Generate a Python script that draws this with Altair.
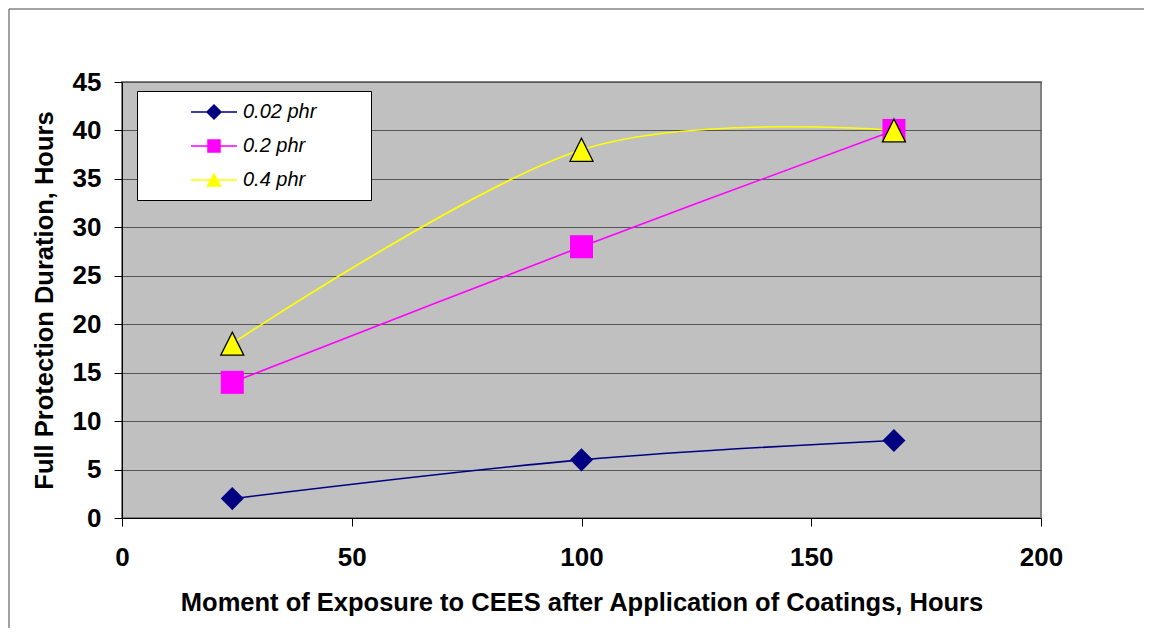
import altair as alt
import pandas as pd

# ---- data ----
hours = [24, 100, 168]
series_names = ["0.02 phr", "0.2 phr", "0.4 phr"]
duration_002 = [2, 6, 8]
duration_02 = [14, 28, 40]
duration_04 = [18, 38, 40]
series_colors = ["#000080", "#FF00FF", "#FFFF00"]
x_ticks = [0, 50, 100, 150, 200]
y_ticks = [0, 5, 10, 15, 20, 25, 30, 35, 40, 45]
x_title = "Moment of Exposure to CEES after Application of Coatings, Hours"
y_title = "Full Protection Duration, Hours"

# marker styles
plot_shapes = ["diamond", "square", "M0,-1L1,1L-1,1Z"]
marker_edges = ["", "", "#000000"]
legend_shapes = [
    "M-2.3,0L2.3,0M0,-0.7L0.7,0L0,0.7L-0.7,0Z",
    "M-2.3,0L2.3,0M-0.6,-0.6L0.6,-0.6L0.6,0.6L-0.6,0.6Z",
    "M-2.3,0L2.3,0M0,-0.6L0.65,0.6L-0.65,0.6Z",
]

rows = []
for name, vals in zip(series_names, [duration_002, duration_02, duration_04]):
    for h, v in zip(hours, vals):
        rows.append({"series": name, "hours": h, "duration": v})
df = pd.DataFrame(rows)

FONT = "Liberation Sans"

x_enc = alt.X(
    "hours:Q",
    scale=alt.Scale(domain=[0, 200], nice=False, zero=False),
    axis=alt.Axis(values=x_ticks, grid=False, title=x_title, format="d",
                  labelFlush=False, labelPadding=18, titlePadding=20),
)
y_enc = alt.Y(
    "duration:Q",
    scale=alt.Scale(domain=[0, 45], nice=False),
    axis=alt.Axis(values=y_ticks, grid=True, title=y_title, format="d",
                  labelFlush=False, labelPadding=13, titlePadding=15),
)

color_scale = alt.Scale(domain=series_names, range=series_colors)
fill_scale = alt.Scale(domain=series_names, range=series_colors)
stroke_scale = alt.Scale(domain=series_names, range=series_colors)
legend_shape_scale = alt.Scale(domain=series_names, range=legend_shapes)

leg = alt.Legend(
    orient="none", legendX=15, legendY=9, title=None,
    fillColor="white", strokeColor="black", padding=10,
    symbolSize=400, symbolStrokeWidth=1.5, symbolOpacity=1,
    symbolOffset=56, labelOffset=18,
    labelFont=FONT, labelFontSize=20, labelFontStyle="italic", labelColor="black",
    rowPadding=13,
    labelExpr="datum.label + '        \u200b'",
)

base = alt.Chart(df)

frame = alt.Chart(pd.DataFrame({"k": [0]})).mark_rect(
    fill="transparent", stroke="#444444", strokeWidth=1, clip=False
).encode(
    x=alt.value(-113), x2=alt.value(2000), y=alt.value(-73), y2=alt.value(2000)
)

legend_layer = base.mark_point(filled=True, opacity=0, strokeWidth=1.5).encode(
    x=x_enc, y=y_enc,
    fill=alt.Fill("series:N", scale=fill_scale, legend=leg),
    stroke=alt.Stroke("series:N", scale=stroke_scale, legend=leg),
    shape=alt.Shape("series:N", scale=legend_shape_scale, legend=leg),
)

lines = base.mark_line(strokeWidth=1.6, interpolate="cardinal").encode(
    x=x_enc, y=y_enc,
    color=alt.Color("series:N", scale=color_scale, legend=None),
)

point_layers = []
for name, shp, edge in zip(series_names, plot_shapes, marker_edges):
    kw = dict(filled=True, shape=shp, size=530, opacity=1)
    if edge:
        kw.update(stroke=edge, strokeWidth=1.3)
    else:
        kw.update(strokeWidth=0)
    point_layers.append(
        base.transform_filter(alt.datum.series == name)
        .mark_point(**kw)
        .encode(x=x_enc, y=y_enc, fill=alt.Fill("series:N", scale=fill_scale))
    )

chart = alt.layer(frame, legend_layer, lines, *point_layers).properties(
    width=919, height=436,
    autosize=alt.AutoSizeParams(type="none"),
    padding={"left": 114, "top": 74, "right": 103, "bottom": 110},
).configure_view(
    fill="#C0C0C0", stroke="#808080", strokeWidth=2
).configure_axis(
    labelFont=FONT, titleFont=FONT, labelFontSize=26, titleFontSize=25.5,
    labelFontWeight="bold", titleFontWeight="bold",
    labelColor="black", titleColor="black",
    domainColor="black", domainWidth=1, tickColor="black", tickSize=8, tickWidth=1,
    gridColor="#555555", gridWidth=1,
)

chart.save("out.html", embed_options={"renderer": "svg", "actions": False})
